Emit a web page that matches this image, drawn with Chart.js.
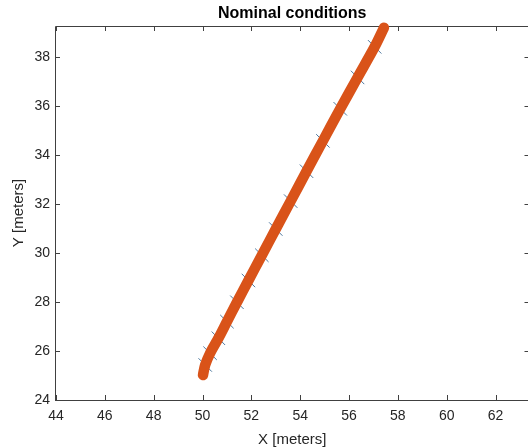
<!DOCTYPE html>
<html>
<head>
<meta charset="utf-8">
<script src="https://cdn.jsdelivr.net/npm/chart.js@4"></script>
<style>
  html, body { margin: 0; padding: 0; overflow: hidden; background: #fff; }
</style>
</head>
<body>
<canvas id="chart" width="540" height="447"></canvas>
<script>
// trajectory (orange path)
const pathX = [50.02, 50.11, 50.31, 50.65, 51.00, 51.41, 51.88, 52.43, 53.00, 53.61, 54.26, 54.93, 55.64, 56.35, 57.05, 57.43];
const pathY = [25.02, 25.43, 25.91, 26.52, 27.20, 27.99, 28.88, 29.91, 30.98, 32.12, 33.34, 34.58, 35.89, 37.17, 38.42, 39.20];

// small heading marks crossing the path
const markX = [50.11, 50.31, 50.65, 51.00, 51.41, 51.88, 52.43, 53.00, 53.61, 54.26, 54.93, 55.64, 56.35, 57.05];
const markY = [25.43, 25.91, 26.52, 27.20, 27.99, 28.88, 29.91, 30.98, 32.12, 33.34, 34.58, 35.89, 37.17, 38.42];

const xTicks = [44, 46, 48, 50, 52, 54, 56, 58, 60, 62];
const yTicks = [24, 26, 28, 30, 32, 34, 36, 38];

const xRange = [43.96, 63.39];
const yRange = [24, 39.27];

const FONT = "'Liberation Sans', Arial, Helvetica, sans-serif";
const AXIS = '#404040';

// matlab style box with inward ticks on all four sides
const boxPlugin = {
  id: 'box',
  beforeDatasetsDraw(chart) {
    const { ctx, chartArea: a, scales } = chart;
    ctx.save();
    ctx.strokeStyle = AXIS;
    ctx.lineWidth = 1;
    ctx.beginPath();
    ctx.rect(a.left + 0.5, a.top + 0.5, a.right - a.left, a.bottom - a.top);
    xTicks.forEach(v => {
      const px = Math.round(scales.x.getPixelForValue(v)) + 0.5;
      ctx.moveTo(px, a.bottom); ctx.lineTo(px, a.bottom - 5);
      ctx.moveTo(px, a.top); ctx.lineTo(px, a.top + 5);
    });
    yTicks.forEach(v => {
      const py = Math.round(scales.y.getPixelForValue(v)) + 0.5;
      ctx.moveTo(a.left, py); ctx.lineTo(a.left + 5, py);
      ctx.moveTo(a.right, py); ctx.lineTo(a.right - 5, py);
    });
    ctx.stroke();
    ctx.restore();
  }
};

new Chart(document.getElementById('chart'), {
  type: 'scatter',
  data: {
    datasets: [
      {
        data: pathX.map((x, i) => ({ x: x, y: pathY[i] })),
        showLine: true,
        borderColor: '#D95319',
        borderWidth: 10.5,
        borderCapStyle: 'round',
        borderJoinStyle: 'round',
        tension: 0.3,
        pointRadius: 0,
        clip: false
      },
      {
        data: markX.map((x, i) => ({ x: x, y: markY[i] })),
        showLine: false,
        pointStyle: 'line',
        pointRadius: 9.5,
        rotation: 45,
        pointBorderColor: 'rgba(45,95,140,0.85)',
        pointBorderWidth: 1,
        pointBackgroundColor: 'transparent'
      }
    ]
  },
  options: {
    responsive: false,
    animation: false,
    layout: { padding: { right: 3 } },
    plugins: {
      legend: { display: false },
      tooltip: { enabled: false },
      title: {
        display: true,
        fullSize: false,
        text: 'Nominal conditions',
        color: '#000',
        font: { family: FONT, size: 16, weight: 'bold', lineHeight: 1.2 },
        padding: { top: 4, bottom: 2.8 }
      }
    },
    scales: {
      x: {
        type: 'linear',
        min: xRange[0],
        max: xRange[1],
        afterBuildTicks: s => { s.ticks = xTicks.map(v => ({ value: v })); },
        afterFit: s => { s.height = 47; s.paddingLeft = 0; s.paddingRight = 0; },
        grid: { display: false, drawTicks: false },
        border: { display: false },
        ticks: { color: '#262626', padding: 8, font: { family: FONT, size: 14 } },
        title: {
          display: true,
          text: 'X [meters]',
          color: '#262626',
          font: { family: FONT, size: 15, lineHeight: 1 },
          padding: { top: 0, bottom: 0 }
        }
      },
      y: {
        type: 'linear',
        min: yRange[0],
        max: yRange[1],
        afterBuildTicks: s => { s.ticks = yTicks.map(v => ({ value: v })); },
        afterFit: s => { s.width = 55; s.paddingTop = 0; s.paddingBottom = 0; },
        grid: { display: false, drawTicks: false },
        border: { display: false },
        ticks: { color: '#262626', padding: 5, font: { family: FONT, size: 14 } },
        title: {
          display: true,
          text: 'Y [meters]',
          color: '#262626',
          font: { family: FONT, size: 15, lineHeight: 1 },
          padding: { top: 11.5, bottom: 0 }
        }
      }
    }
  },
  plugins: [boxPlugin]
});
</script>
</body>
</html>
